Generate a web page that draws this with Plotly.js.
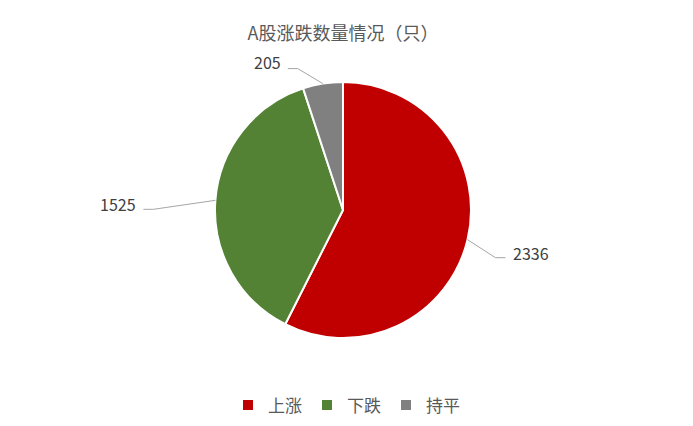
<!DOCTYPE html>
<html>
<head>
<meta charset="utf-8">
<script src="https://cdn.plot.ly/plotly-3.0.1.min.js"></script>
<style>html,body{margin:0;padding:0;background:#fff}</style>
</head>
<body>
<div id="chart" style="width:693px;height:426px"></div>
<script>
const categories = ['上涨', '下跌', '持平'];
const counts = [2336, 1525, 205];
const colors = ['#C00000', '#548235', '#808080'];

// pie geometry (pixels)
const W = 693, H = 426;
const cx = 343, cy = 210, R = 128;
// leader lines: elbow and end offsets from slice edge, pixels
const leaders = [
	{elbow: [28, 18], end: [38, 18], text: [43, 13], anchor: 'left'},
	{elbow: [-62, 9], end: [-72, 9], text: [-77, 4], anchor: 'right'},
	{elbow: [-25, -15], end: [-35, -15], text: [-40, -22], anchor: 'right'}
];

const total = counts.reduce((a, b) => a + b, 0);
const px2x = p => p / W, px2y = p => 1 - p / H;
let acc = 0;
const annotations = [], shapes = [];
counts.forEach((v, i) => {
	const mid = (acc + v / 2) / total * 2 * Math.PI;
	acc += v;
	const ex = cx + R * Math.sin(mid);
	const ey = cy - R * Math.cos(mid);
	const L = leaders[i];
	shapes.push({
		type: 'path', xref: 'paper', yref: 'paper',
		path: `M ${px2x(ex)},${px2y(ey)} L ${px2x(ex + L.elbow[0])},${px2y(ey + L.elbow[1])} L ${px2x(ex + L.end[0])},${px2y(ey + L.end[1])}`,
		line: {color: '#A6A6A6', width: 1}
	});
	annotations.push({
		x: px2x(ex + L.text[0]), y: px2y(ey + L.text[1]), xref: 'paper', yref: 'paper',
		xanchor: L.anchor, yanchor: 'middle',
		text: String(v), showarrow: false,
		font: {size: 16, color: '#404040'}
	});
});

const data = [{
	type: 'pie',
	labels: categories,
	values: counts,
	sort: false,
	direction: 'clockwise',
	rotation: 0,
	textinfo: 'none',
	hoverinfo: 'label+value',
	marker: {colors: colors, line: {color: '#fff', width: 2}},
	domain: {x: [(cx - R) / W, (cx + R) / W], y: [1 - (cy + R) / H, 1 - (cy - R) / H]}
}];

const layout = {
	width: W, height: H,
	margin: {l: 0, r: 0, t: 0, b: 0},
	font: {family: '"Noto Sans CJK SC", "Noto Sans", sans-serif', color: '#595959'},
	title: {text: 'A股涨跌数量情况（只）', x: 0.495, xanchor: 'center', y: 0.922, yanchor: 'middle',
		font: {size: 18, color: '#595959'}},
	showlegend: true,
	legend: {orientation: 'h', x: 0.5, xanchor: 'center', y: 0.048, yanchor: 'middle',
		font: {size: 17, color: '#595959'}, itemwidth: 30},
	annotations: annotations,
	shapes: shapes,
	paper_bgcolor: '#fff'
};

Plotly.newPlot('chart', data, layout, {displayModeBar: false});
</script>
</body>
</html>
